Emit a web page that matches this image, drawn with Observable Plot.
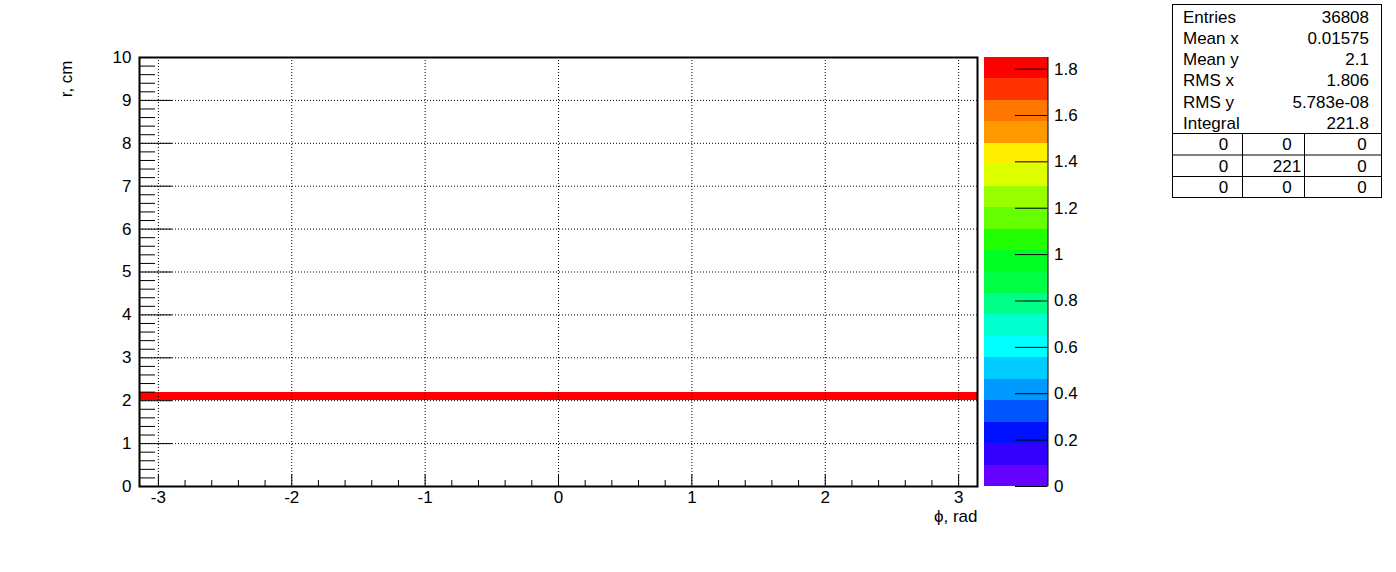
<!DOCTYPE html>
<html><head><meta charset="utf-8">
<script src="https://cdn.jsdelivr.net/npm/d3@7"></script>
<script src="https://cdn.jsdelivr.net/npm/@observablehq/plot@0.6"></script>
<style>
body{margin:0;background:#fff;}
#wrap{position:relative;width:1396px;height:572px;font-family:"Liberation Sans",Arial,Helvetica,sans-serif;}
#wrap svg{position:absolute;left:0;top:0;overflow:visible;}
</style></head><body><div id="wrap"></div>
<script>
// ---------- data ----------
const xDomain = [-Math.PI, Math.PI];
const yDomain = [0, 10];
const rBin = [2.0, 2.2];            // the filled r bin
const binValues = [
  1.85,1.84,1.85,1.85,1.83,1.85,1.85,1.84,1.85,1.85,
  1.84,1.85,1.85,1.85,1.84,1.83,1.85,1.85,1.85,1.84,
  1.85,1.85,1.84,1.85,1.85,1.85,1.83,1.84,1.85,1.85,
  1.85,1.84,1.85,1.85,1.85,1.84,1.85,1.85,1.84,1.85,
  1.83,1.85,1.85,1.85,1.84,1.85,1.85,1.84,1.85,1.85,
  1.85,1.84,1.85,1.83,1.85,1.85,1.85,1.84,1.85,1.85,
  1.85,1.84,1.85,1.85,1.83,1.85,1.85,1.85,1.84,1.85,
  1.84,1.85,1.85,1.85,1.84,1.83,1.85,1.85,1.85,1.84,
  1.85,1.85,1.84,1.85,1.85,1.84,1.85,1.85,1.83,1.85,
  1.85,1.84,1.85,1.85,1.85,1.84,1.85,1.85,1.84,1.85,
  1.84,1.85,1.85,1.83,1.85,1.85,1.84,1.85,1.85,1.85,
  1.85,1.84,1.85,1.85,1.84,1.85,1.83,1.85,1.85,1.84
];
const zMax = 1.85;
const paletteColors = [
  "#6600ff","#3300ff","#0011ff","#0055ff","#0099ff","#00ccff","#00ffff","#00ffcc","#00ff88","#00ff44",
  "#00ff22","#22ff00","#66ff00","#99ff00","#ddff00","#ffee00","#ff9900","#ff7700","#ff3300","#ff0000"
];
const xMajorTicks = [-3, -2, -1, 0, 1, 2, 3];
const yMajorTicks = [0, 1, 2, 3, 4, 5, 6, 7, 8, 9, 10];
const zTicks = [0, 0.2, 0.4, 0.6, 0.8, 1, 1.2, 1.4, 1.6, 1.8];
const xTitle = "ϕ, rad";
const yTitle = "r, cm";
const statNames = ["Entries", "Mean x", "Mean y", "RMS x", "RMS y", "Integral"];
const statValues = ["36808", "0.01575", "2.1", "1.806", "5.783e-08", "221.8"];
const tableRows = [["0","0","0"],["0","221","0"],["0","0","0"]];

// ---------- derived ----------
const W = 1396, H = 572;
const frame = {left: 139, right: 977, top: 57, bottom: 486};
const nLev = paletteColors.length;
const thresholds = d3.range(1, nLev).map(i => i * zMax / nLev);
const levels = d3.range(nLev).map(i => ({z1: i * zMax / nLev, z2: (i + 1) * zMax / nLev, zm: (i + 0.5) * zMax / nLev}));
const nb = binValues.length;
const cells = binValues.map((v, i) => ({
  x1: xDomain[0] + i * (xDomain[1] - xDomain[0]) / nb,
  x2: xDomain[0] + (i + 1) * (xDomain[1] - xDomain[0]) / nb,
  y1: rBin[0], y2: rBin[1], v
}));
const xMinor = d3.range(-3, 3.0001, 0.2).map(d => +d.toFixed(1)).filter(d => !xMajorTicks.includes(d));
const yMinor = d3.range(0, 10.0001, 0.2).map(d => +d.toFixed(1)).filter(d => !yMajorTicks.includes(d));
const fh = frame.bottom - frame.top, fw = frame.right - frame.left;
const colorScale = {type: "threshold", domain: thresholds, range: paletteColors};
const FONT = "Liberation Sans, Arial, Helvetica, sans-serif";
const FS = 17;

const main = Plot.plot({
  width: W, height: H,
  marginLeft: frame.left, marginRight: W - frame.right, marginTop: frame.top, marginBottom: H - frame.bottom,
  x: {domain: xDomain},
  y: {domain: yDomain},
  color: colorScale,
  style: {fontFamily: FONT, background: "transparent"},
  marks: [
    Plot.rect(cells, {x1: "x1", x2: "x2", y1: "y1", y2: "y2", fill: "v", insetLeft: -0.5, insetRight: -0.5, shapeRendering: "crispEdges"}),
    Plot.ruleX(xMajorTicks, {stroke: "black", strokeDasharray: "1,2"}),
    Plot.ruleY(yMajorTicks.filter(d => d > 0 && d < 10), {stroke: "black", strokeDasharray: "1,2"}),
    Plot.ruleX(xMajorTicks, {stroke: "black", insetTop: fh - 12}),
    Plot.ruleX(xMinor, {stroke: "black", insetTop: fh - 6}),
    Plot.ruleY(yMajorTicks, {stroke: "black", insetRight: fw - 33}),
    Plot.ruleY(yMinor, {stroke: "black", insetRight: fw - 16}),
    Plot.frame({stroke: "black", strokeWidth: 2}),
    Plot.axisX({ticks: xMajorTicks, tickSize: 0, tickPadding: 4, fontSize: FS, label: null, tickFormat: d => String(d)}),
    Plot.axisY({ticks: yMajorTicks, tickSize: 0, tickPadding: 8, fontSize: FS, label: null, tickFormat: d => String(d)}),
    Plot.text([yTitle], {text: d => d, frameAnchor: "top-left", dx: -80, dy: 3, rotate: -90, textAnchor: "end", fontSize: FS}),
    Plot.text([xTitle], {text: d => d, frameAnchor: "bottom-right", dy: 35, textAnchor: "end", fontSize: FS})
  ]
});

const pal = Plot.plot({
  width: W, height: H,
  marginLeft: 984, marginRight: W - 1047.5, marginTop: frame.top, marginBottom: H - frame.bottom,
  x: {domain: [0, 1], axis: null},
  y: {domain: [0, zMax]},
  color: colorScale,
  style: {fontFamily: FONT, background: "transparent"},
  marks: [
    Plot.rect(levels, {x1: 0, x2: 1, y1: "z1", y2: "z2", fill: "zm", shapeRendering: "crispEdges"}),
    Plot.ruleY(zTicks, {stroke: "black", insetLeft: 31}),
    Plot.ruleX([1], {stroke: "black"}),
    Plot.axisY({anchor: "right", ticks: zTicks, tickSize: 0, tickPadding: 6, fontSize: FS, label: null, tickFormat: d3.format("~g")})
  ]
});

const wrap = document.getElementById("wrap");
wrap.appendChild(main);
wrap.appendChild(pal);

// ---------- stats box ----------
const svg = d3.select(wrap).append("svg").attr("width", W).attr("height", H)
  .style("font-family", FONT).style("font-size", FS + "px");
const bx = 1172.5, by = 4.5, bw = 209, bh = 193;
svg.append("rect").attr("x", bx).attr("y", by).attr("width", bw).attr("height", bh)
  .attr("fill", "white").attr("stroke", "black");
const rowH = 21.3, row0 = 17;
statNames.forEach((n, i) => {
  svg.append("text").attr("x", 1183).attr("y", row0 + i * rowH).attr("dominant-baseline", "central").text(n);
  svg.append("text").attr("x", 1369).attr("y", row0 + i * rowH).attr("dominant-baseline", "central")
    .attr("text-anchor", "end").text(statValues[i]);
});
const hLines = [133.5, 155, 176.5];
hLines.forEach(y => svg.append("line").attr("x1", bx).attr("x2", bx + bw).attr("y1", y).attr("y2", y).attr("stroke", "black"));
[1242.5, 1304.5].forEach(x => svg.append("line").attr("x1", x).attr("x2", x).attr("y1", 133.5).attr("y2", by + bh).attr("stroke", "black"));
const colX = [1223.5, 1287, 1362];
tableRows.forEach((r, j) => r.forEach((t, k) => {
  svg.append("text").attr("x", colX[k]).attr("y", 144.5 + j * 21.5).attr("dominant-baseline", "central")
    .attr("text-anchor", "middle").text(t);
}));
</script>
</body></html>
